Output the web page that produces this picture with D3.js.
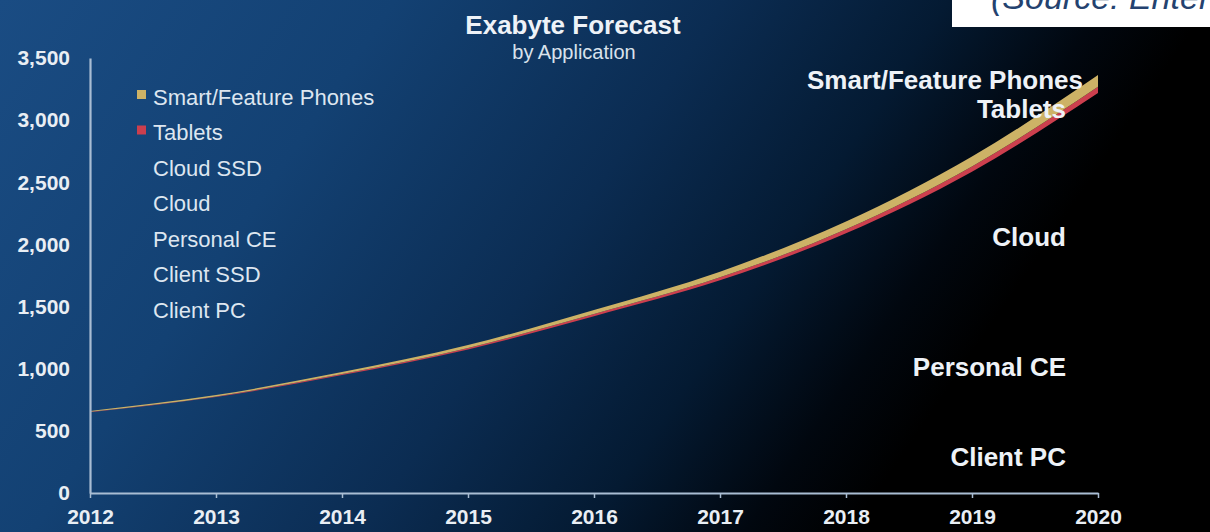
<!DOCTYPE html>
<html>
<head>
<meta charset="utf-8">
<script src="https://cdn.jsdelivr.net/npm/d3@7"></script>
<style>
  html, body { margin: 0; padding: 0; background: #000; }
  svg { display: block; font-family: "Liberation Sans", Arial, sans-serif; }
</style>
</head>
<body>
<svg id="chart" width="1210" height="532"></svg>
<script>
// Exabyte forecast by application, stacked from the bottom layer up.
const years = [2012, 2013, 2014, 2015, 2016, 2017, 2018, 2019, 2020];
const clientPC     = [430, 450, 470, 490, 510, 530, 550, 565, 580];
const clientSSD    = [2, 4, 7, 10, 14, 19, 25, 32, 40];
const personalCE   = [150, 190, 240, 300, 370, 440, 530, 650, 788];
const cloud        = [60, 115, 200, 300, 440, 600, 820, 1050, 1304];
const cloudSSD     = [8, 13, 32, 55, 89, 122, 165, 288, 506];
const tablets      = [3, 5, 8, 12, 17, 24, 32, 42, 50];
const smartPhones  = [7, 11, 16, 23, 33, 46, 62, 80, 95];

const seriesKeys   = ["Client PC", "Client SSD", "Personal CE", "Cloud", "Cloud SSD", "Tablets", "Smart/Feature Phones"];
const seriesValues = [clientPC, clientSSD, personalCE, cloud, cloudSSD, tablets, smartPhones];
const seriesFill   = { "Tablets": "#cc3f4e", "Smart/Feature Phones": "#cdb266" };
const legendOrder  = ["Smart/Feature Phones", "Tablets", "Cloud SSD", "Cloud", "Personal CE", "Client SSD", "Client PC"];
const endLabels    = ["Cloud", "Personal CE", "Client PC"];
const yTicks       = [0, 500, 1000, 1500, 2000, 2500, 3000, 3500];

const rows = years.map((yr, i) => {
  const r = { year: yr };
  seriesKeys.forEach((k, j) => { r[k] = seriesValues[j][i]; });
  return r;
});

const svg = d3.select("#chart");
const W = 1210, H = 532;

// background: blue fading to black toward the right
const defs = svg.append("defs");
const bg = defs.append("linearGradient").attr("id", "bg")
  .attr("x1", "0%").attr("y1", "0%").attr("x2", "100%").attr("y2", "30%");
[[0, "#1a4c83"], [0.3, "#134173"], [0.55, "#0b2c52"], [0.72, "#041a32"], [0.84, "#01070f"], [0.92, "#000000"], [1, "#000000"]]
  .forEach(([o, c]) => bg.append("stop").attr("offset", o).attr("stop-color", c));
svg.append("rect").attr("width", W).attr("height", H).attr("fill", "url(#bg)");

const x = d3.scaleLinear().domain([2012, 2020]).range([90, 1098]);
const y = d3.scaleLinear().domain([0, 3500]).range([493, 58]);

const stack = d3.stack().keys(seriesKeys);
const layers = stack(rows);

const area = d3.area()
  .x(d => x(d.data.year))
  .y0(d => y(d[0]))
  .y1(d => y(d[1]))
  .curve(d3.curveMonotoneX);

svg.append("g").selectAll("path")
  .data(layers)
  .join("path")
  .attr("d", area)
  .attr("fill", d => seriesFill[d.key] || "none");

// axes
const axisColor = "#a9bdd3";
const xAxis = svg.append("g").attr("transform", `translate(0,${y(0)})`)
  .call(d3.axisBottom(x).tickValues(years).tickFormat(d3.format("d")).tickSize(5).tickSizeOuter(0));
xAxis.select(".domain").attr("stroke", axisColor).attr("stroke-width", 2.2);
xAxis.selectAll(".tick line").attr("stroke", axisColor).attr("stroke-width", 1.5);
xAxis.selectAll(".tick text")
  .attr("fill", "#e9eef4").attr("font-size", 21).attr("font-weight", "bold").attr("dy", "1.1em");

const yAxis = svg.append("g").attr("transform", `translate(${x(2012)},0)`)
  .call(d3.axisLeft(y).tickValues(yTicks).tickFormat(d3.format(",")).tickSize(0).tickPadding(20));
yAxis.select(".domain").attr("stroke", axisColor).attr("stroke-width", 2.2);
yAxis.selectAll(".tick text")
  .attr("fill", "#e9eef4").attr("font-size", 21).attr("font-weight", "bold");

// title
svg.append("text").attr("x", 573).attr("y", 34).attr("text-anchor", "middle")
  .attr("fill", "#eef2f7").attr("font-size", 26).attr("font-weight", "bold")
  .text("Exabyte Forecast");
svg.append("text").attr("x", 574).attr("y", 59).attr("text-anchor", "middle")
  .attr("fill", "#d9e2ec").attr("font-size", 20)
  .text("by Application");

// legend
const legend = svg.append("g");
legendOrder.forEach((k, i) => {
  const cy = 97 + i * 35.5;
  if (seriesFill[k]) {
    legend.append("rect").attr("x", 137).attr("y", cy - 7).attr("width", 9).attr("height", 9)
      .attr("fill", seriesFill[k]);
  }
  legend.append("text").attr("x", 153).attr("y", cy).attr("dy", "0.35em")
    .attr("fill", "#dde6f0").attr("font-size", 22).text(k);
});

// end-of-series labels
const last = layers.map(l => ({ key: l.key, lo: l[l.length - 1][0], hi: l[l.length - 1][1] }));
const byKey = Object.fromEntries(last.map(d => [d.key, d]));
const lbl = svg.append("g").attr("fill", "#eef2f7").attr("font-size", 26).attr("font-weight", "bold")
  .attr("text-anchor", "end");
endLabels.forEach(k => {
  const d = byKey[k];
  lbl.append("text").attr("x", 1066).attr("y", y((d.lo + d.hi) / 2)).attr("dy", "0.35em").text(k);
});
const stackTop = byKey["Smart/Feature Phones"].hi;
lbl.append("text").attr("x", 1083).attr("y", y(stackTop) + 5).attr("dy", "0.35em").text("Smart/Feature Phones");
lbl.append("text").attr("x", 1066).attr("y", y(stackTop) + 34).attr("dy", "0.35em").text("Tablets");

// source box
svg.append("rect").attr("x", 952).attr("y", 0).attr("width", W - 952).attr("height", 27).attr("fill", "#ffffff");
svg.append("text").attr("x", 991).attr("y", 9).attr("fill", "#24426f")
  .attr("font-size", 34).attr("font-style", "italic")
  .text("(Source: Entertainment Storage Alliance)");
</script>
</body>
</html>
